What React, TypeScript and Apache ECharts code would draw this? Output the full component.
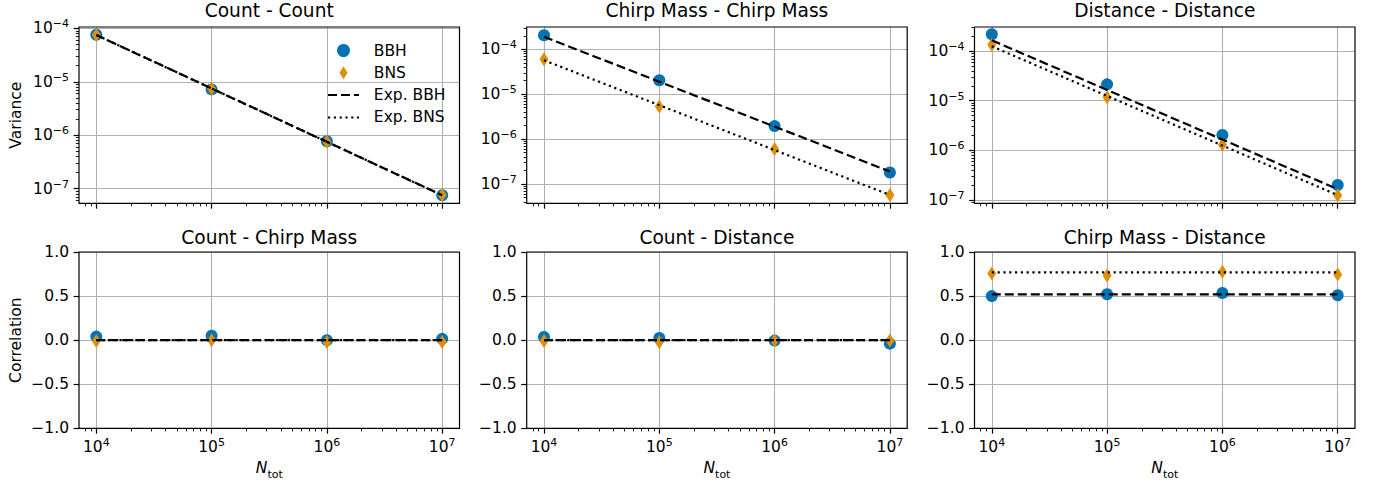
import React, { useEffect, useRef } from 'react';
import * as echarts from 'echarts';

// ---------- data ----------
const N_TOT = [1e4, 1e5, 1e6, 1e7];

const VAR_TITLES = ['Count - Count', 'Chirp Mass - Chirp Mass', 'Distance - Distance'];
const CORR_TITLES = ['Count - Chirp Mass', 'Count - Distance', 'Chirp Mass - Distance'];

// Variance panels
const VAR_CC_BBH = [7.6e-5, 7.2e-6, 7.7e-7, 7.5e-8];
const VAR_CC_BNS = [7.5e-5, 7.4e-6, 7.5e-7, 7.6e-8];
const VAR_CC_EXP_BBH = [7.5e-5, 7.5e-6, 7.5e-7, 7.5e-8];
const VAR_CC_EXP_BNS = [7.5e-5, 7.5e-6, 7.5e-7, 7.5e-8];

const VAR_MM_BBH = [2.05e-4, 2.05e-5, 1.95e-6, 1.8e-7];
const VAR_MM_BNS = [6.0e-5, 5.3e-6, 6.0e-7, 5.7e-8];
const VAR_MM_EXP_BBH = [1.9e-4, 1.9e-5, 1.9e-6, 1.9e-7];
const VAR_MM_EXP_BNS = [5.7e-5, 5.7e-6, 5.7e-7, 5.7e-8];

const VAR_DD_BBH = [2.18e-4, 2.14e-5, 2.05e-6, 2.0e-7];
const VAR_DD_BNS = [1.35e-4, 1.18e-5, 1.3e-6, 1.24e-7];
const VAR_DD_EXP_BBH = [1.65e-4, 1.65e-5, 1.65e-6, 1.65e-7];
const VAR_DD_EXP_BNS = [1.25e-4, 1.25e-5, 1.25e-6, 1.25e-7];

// Correlation panels
const COR_CM_BBH = [0.04, 0.05, 0.0, 0.015];
const COR_CM_BNS = [-0.01, 0.0, -0.02, -0.02];
const COR_CM_EXP_BBH = [0, 0, 0, 0];
const COR_CM_EXP_BNS = [0, 0, 0, 0];

const COR_CD_BBH = [0.035, 0.025, -0.005, -0.04];
const COR_CD_BNS = [-0.01, -0.025, -0.005, -0.005];
const COR_CD_EXP_BBH = [0, 0, 0, 0];
const COR_CD_EXP_BNS = [0, 0, 0, 0];

const COR_MD_BBH = [0.5, 0.52, 0.535, 0.51];
const COR_MD_BNS = [0.757, 0.734, 0.775, 0.745];
const COR_MD_EXP_BBH = [0.52, 0.52, 0.52, 0.52];
const COR_MD_EXP_BNS = [0.768, 0.768, 0.768, 0.768];

// axis limits (log10 space for log axes)
const X_LIMITS = [3.85, 7.15];
const VAR_LIMITS = [
  [-7.275, -3.975],
  [-7.43, -3.503],
  [-7.067, -3.514],
];
const COR_LIMITS = [-1, 1];

const X_TICK_EXPONENTS = [4, 5, 6, 7];
const VAR_TICK_EXPONENTS = [-7, -6, -5, -4];
const COR_TICKS = [-1, -0.5, 0, 0.5, 1];
const MINOR_SUBS = [2, 3, 4, 5, 6, 7, 8, 9];

const LEGEND_NAMES = ['BBH', 'BNS', 'Exp. BBH', 'Exp. BNS'];

// ---------- style ----------
const FONT = 'DejaVu Sans';
const C_BBH = '#0173b2';
const C_BNS = '#de8f05';
const GRID_COLOR = '#b0b0b0';
const COLS = [79, 526.7, 974.5];
const WIDTH = 380.5;
const ROWS = [27, 252];
const HEIGHT = 176.3;
const TITLE_TOPS = [1, 227.5];

const RICH = {
  b: { fontSize: 15.5, fontFamily: FONT, color: '#000', lineHeight: 20 },
  s: { fontSize: 11, fontFamily: FONT, color: '#000', lineHeight: 11, verticalAlign: 'top' },
};
const NAME_RICH = {
  n: { fontSize: 15.5, fontFamily: FONT, fontStyle: 'italic', color: '#000', lineHeight: 24 },
  t: { fontSize: 11, fontFamily: FONT, color: '#000', lineHeight: 11, verticalAlign: 'bottom' },
};

function expLabel(v: number) {
  const e = Math.round(v);
  const s = e < 0 ? '\u2212' + Math.abs(e) : String(e);
  return `{b|10}{s|${s}}`;
}
function corLabel(v: number) {
  const s = Math.abs(v).toFixed(1);
  return v < 0 ? '\u2212' + s : s;
}
function minorTicks(lo: number, hi: number) {
  const out: number[] = [];
  for (let d = Math.floor(lo) - 1; d <= Math.ceil(hi); d++) {
    for (const m of MINOR_SUBS) {
      const v = d + Math.log10(m);
      if (v > lo && v < hi) out.push(v);
    }
  }
  return out;
}
const logPts = (ys: number[]) => N_TOT.map((n, i) => [Math.log10(n), Math.log10(ys[i])]);
const linPts = (ys: number[]) => N_TOT.map((n, i) => [Math.log10(n), ys[i]]);

const PANELS = [
  { title: VAR_TITLES[0], log: true, lim: VAR_LIMITS[0], bbh: VAR_CC_BBH, bns: VAR_CC_BNS, eb: VAR_CC_EXP_BBH, en: VAR_CC_EXP_BNS },
  { title: VAR_TITLES[1], log: true, lim: VAR_LIMITS[1], bbh: VAR_MM_BBH, bns: VAR_MM_BNS, eb: VAR_MM_EXP_BBH, en: VAR_MM_EXP_BNS },
  { title: VAR_TITLES[2], log: true, lim: VAR_LIMITS[2], bbh: VAR_DD_BBH, bns: VAR_DD_BNS, eb: VAR_DD_EXP_BBH, en: VAR_DD_EXP_BNS },
  { title: CORR_TITLES[0], log: false, lim: COR_LIMITS, bbh: COR_CM_BBH, bns: COR_CM_BNS, eb: COR_CM_EXP_BBH, en: COR_CM_EXP_BNS },
  { title: CORR_TITLES[1], log: false, lim: COR_LIMITS, bbh: COR_CD_BBH, bns: COR_CD_BNS, eb: COR_CD_EXP_BBH, en: COR_CD_EXP_BNS },
  { title: CORR_TITLES[2], log: false, lim: COR_LIMITS, bbh: COR_MD_BBH, bns: COR_MD_BNS, eb: COR_MD_EXP_BBH, en: COR_MD_EXP_BNS },
];

function buildOption() {
  const grids: any[] = [];
  const xAxes: any[] = [];
  const yAxes: any[] = [];
  const series: any[] = [];
  const titles: any[] = [];
  const tickLine = { color: '#000', width: 1.2 };
  const minorLine = { color: '#000', width: 0.9 };

  PANELS.forEach((p, i) => {
    const row = i < 3 ? 0 : 1;
    const col = i % 3;
    grids.push({
      left: COLS[col], top: ROWS[row], width: WIDTH, height: HEIGHT,
      show: true, borderColor: '#000', borderWidth: 1.2, backgroundColor: 'transparent', z: 3,
      containLabel: false, outerBoundsMode: 'none',
    });
    titles.push({
      text: p.title, left: COLS[col] + WIDTH / 2, top: TITLE_TOPS[row], textAlign: 'center', textVerticalAlign: 'top', padding: 0,
      textStyle: { fontFamily: FONT, fontSize: 18.6, fontWeight: 'normal', color: '#000' },
    });

    const xi = xAxes.length;
    xAxes.push({
      type: 'value', gridIndex: i, min: X_LIMITS[0], max: X_LIMITS[1], position: 'bottom',
      axisLine: { show: false, onZero: false },
      axisTick: { show: true, customValues: X_TICK_EXPONENTS, length: 5.4, lineStyle: tickLine },
      axisLabel: {
        show: row === 1, customValues: X_TICK_EXPONENTS, margin: 9, formatter: (v: number) => expLabel(v), rich: RICH,
      },
      splitLine: { show: true, lineStyle: { color: GRID_COLOR, width: 1.1 } },
      name: row === 1 ? '{n|N}{t|tot}' : '', nameLocation: 'middle', nameGap: 28, nameMoveOverlap: false,
      nameTextStyle: { rich: NAME_RICH },
    });
    xAxes.push({
      type: 'value', gridIndex: i, min: X_LIMITS[0], max: X_LIMITS[1], position: 'bottom',
      axisLine: { show: false, onZero: false },
      axisTick: { show: true, customValues: minorTicks(X_LIMITS[0], X_LIMITS[1]), length: 3.1, lineStyle: minorLine },
      axisLabel: { show: false }, splitLine: { show: false },
    });

    const yi = yAxes.length;
    yAxes.push({
      type: 'value', gridIndex: i, min: p.lim[0], max: p.lim[1], position: 'left',
      axisLine: { show: false, onZero: false },
      axisTick: { show: true, customValues: p.log ? VAR_TICK_EXPONENTS : COR_TICKS, length: 5.4, lineStyle: tickLine },
      axisLabel: {
        show: true, customValues: p.log ? VAR_TICK_EXPONENTS : COR_TICKS, margin: 10,
        formatter: p.log ? (v: number) => expLabel(v) : (v: number) => corLabel(v),
        rich: RICH, fontFamily: FONT, fontSize: 15.5, color: '#000',
      },
      splitLine: { show: true, lineStyle: { color: GRID_COLOR, width: 1.1 } },
      name: col === 0 ? (row === 0 ? 'Variance' : 'Correlation') : '',
      nameLocation: 'middle', nameGap: 55, nameMoveOverlap: false,
      nameTextStyle: { fontFamily: FONT, fontSize: 15.5, color: '#000' },
    });
    if (p.log) {
      yAxes.push({
        type: 'value', gridIndex: i, min: p.lim[0], max: p.lim[1], position: 'left',
        axisLine: { show: false, onZero: false },
        axisTick: { show: true, customValues: minorTicks(p.lim[0], p.lim[1]), length: 3.1, lineStyle: minorLine },
        axisLabel: { show: false }, splitLine: { show: false },
      });
    }

    const pts = p.log ? logPts : linPts;
    series.push({
      type: 'scatter', name: 'BBH', xAxisIndex: xi, yAxisIndex: yi, data: pts(p.bbh),
      symbol: 'circle', symbolSize: 12, itemStyle: { color: C_BBH, opacity: 1 }, z: 2, silent: true,
    });
    series.push({
      type: 'scatter', name: 'BNS', xAxisIndex: xi, yAxisIndex: yi, data: pts(p.bns),
      symbol: 'diamond', symbolSize: [9, 14], itemStyle: { color: C_BNS, opacity: 1 }, z: 2, silent: true,
    });
    series.push({
      type: 'line', name: 'Exp. BBH', xAxisIndex: xi, yAxisIndex: yi, data: pts(p.eb),
      symbol: 'none', lineStyle: { color: '#000', width: 2.2, type: [9, 4], cap: 'butt' }, itemStyle: { color: '#000' },
      z: 3, silent: true,
    });
    series.push({
      type: 'line', name: 'Exp. BNS', xAxisIndex: xi, yAxisIndex: yi, data: pts(p.en),
      symbol: 'none', lineStyle: { color: '#000', width: 2.2, type: [2.2, 3.6], cap: 'butt' }, itemStyle: { color: '#000' },
      z: 3, silent: true,
    });
  });

  return {
    animation: false,
    backgroundColor: '#fff',
    textStyle: { fontFamily: FONT },
    title: titles,
    legend: {
      orient: 'vertical', left: 327, top: 42.5, padding: 0,
      itemWidth: 31, itemHeight: 13, itemGap: 6.3, selectedMode: false,
      formatter: (name: string) => '\u00a0\u00a0' + name,
      textStyle: { fontFamily: FONT, fontSize: 15.5, color: '#000' },
      data: [
        { name: LEGEND_NAMES[0], icon: 'circle' },
        { name: LEGEND_NAMES[1], icon: 'path://M5 0L10 8L5 16L0 8Z' },
        { name: LEGEND_NAMES[2], itemStyle: { opacity: 0 } },
        { name: LEGEND_NAMES[3], itemStyle: { opacity: 0 } },
      ],
    },
    grid: grids,
    xAxis: xAxes,
    yAxis: yAxes,
    series,
  };
}

export default function App() {
  const ref = useRef<HTMLDivElement>(null);
  useEffect(() => {
    if (!ref.current) return;
    const chart = echarts.init(ref.current, null, { renderer: 'svg' });
    chart.setOption(buildOption() as any);
    return () => chart.dispose();
  }, []);
  return <div ref={ref} style={{ position: 'absolute', left: 0, top: 0, width: 1378, height: 485 }} />;
}
